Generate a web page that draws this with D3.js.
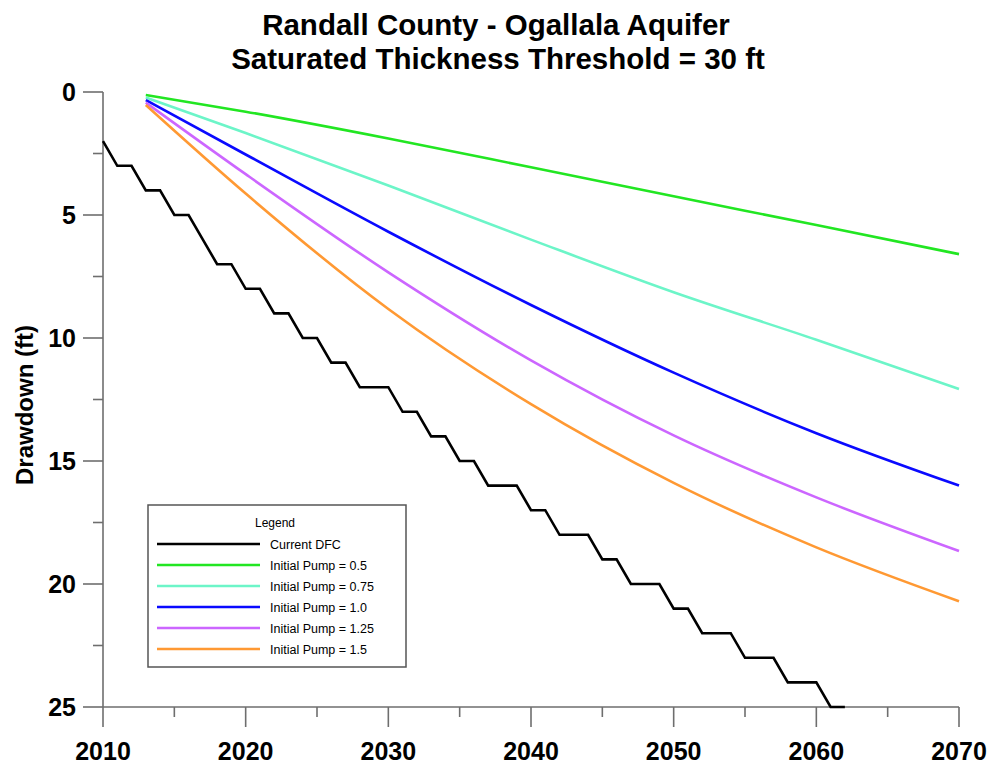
<!DOCTYPE html>
<html>
<head>
<meta charset="utf-8">
<script src="https://cdn.jsdelivr.net/npm/d3@7"></script>
<style>
  html, body { margin: 0; padding: 0; background: #fff; }
  svg { display: block; }
  text { font-family: "Liberation Sans", Arial, sans-serif; }
</style>
</head>
<body>
<svg id="chart" width="992" height="767"></svg>
<script>
// Current desired future condition: annual drawdown (ft)
const dfcYears = d3.range(2010, 2063);
const dfcValues = [2, 3, 3, 4, 4, 5, 5, 6, 7, 7, 8, 8, 9, 9, 10, 10, 11, 11, 12, 12,
  12, 13, 13, 14, 14, 15, 15, 16, 16, 16, 17, 17, 18, 18, 18, 19, 19, 20, 20, 20,
  21, 21, 22, 22, 22, 23, 23, 23, 24, 24, 24, 25, 25];

// Projected drawdown for each initial pumping scenario
const scenarioYears = [2013, 2020, 2030, 2040, 2050, 2060, 2070];
const pump050 = [0.12, 0.80, 1.89, 3.06, 4.24, 5.41, 6.59];
const pump075 = [0.22, 1.67, 3.80, 6.00, 8.14, 10.07, 12.07];
const pump100 = [0.33, 2.54, 5.68, 8.66, 11.41, 13.87, 16.00];
const pump125 = [0.43, 3.34, 7.33, 10.91, 13.96, 16.48, 18.66];
const pump150 = [0.53, 4.13, 8.82, 12.69, 15.89, 18.51, 20.70];

const seriesNames = ["Current DFC", "Initial Pump = 0.5", "Initial Pump = 0.75",
  "Initial Pump = 1.0", "Initial Pump = 1.25", "Initial Pump = 1.5"];
const seriesColors = ["#000000", "#22e622", "#6cf5c8", "#0a0aff", "#cc66ff", "#ff9933"];

const xTicks = [2010, 2020, 2030, 2040, 2050, 2060, 2070];
const yTicks = [0, 5, 10, 15, 20, 25];

const svg = d3.select("#chart");
const x = d3.scaleLinear().domain([2010, 2070]).range([103, 959]);
const y = d3.scaleLinear().domain([0, 25]).range([92, 707]);
const axisColor = "#6e6e6e";

// Titles
svg.append("text").attr("x", 496).attr("y", 35).attr("text-anchor", "middle")
  .attr("font-size", 29.5).attr("font-weight", "bold").text("Randall County - Ogallala Aquifer");
svg.append("text").attr("x", 498).attr("y", 69).attr("text-anchor", "middle")
  .attr("font-size", 29.5).attr("font-weight", "bold").text("Saturated Thickness Threshold = 30 ft");

// Axis title
svg.append("text").attr("transform", "translate(33,405) rotate(-90)")
  .attr("text-anchor", "middle").attr("font-size", 24).attr("font-weight", "bold")
  .text("Drawdown (ft)");

// Axes
const axes = svg.append("g").attr("stroke", axisColor).attr("stroke-width", 1.6).attr("fill", "none");
axes.append("line").attr("x1", x(2010)).attr("x2", x(2010)).attr("y1", y(0)).attr("y2", y(25));
axes.append("line").attr("x1", x(2010)).attr("x2", x(2070)).attr("y1", y(25)).attr("y2", y(25));

const yMinor = d3.range(2.5, 25, 5);
yTicks.forEach(v => axes.append("line").attr("x1", x(2010) - 20).attr("x2", x(2010)).attr("y1", y(v)).attr("y2", y(v)));
yMinor.forEach(v => axes.append("line").attr("x1", x(2010) - 10).attr("x2", x(2010)).attr("y1", y(v)).attr("y2", y(v)));
const xMinor = d3.range(2015, 2070, 10);
xTicks.forEach(v => axes.append("line").attr("x1", x(v)).attr("x2", x(v)).attr("y1", y(25)).attr("y2", y(25) + 20));
xMinor.forEach(v => axes.append("line").attr("x1", x(v)).attr("x2", x(v)).attr("y1", y(25)).attr("y2", y(25) + 10));

svg.append("g").selectAll("text").data(yTicks).join("text")
  .attr("x", 76).attr("y", d => y(d) + 9).attr("text-anchor", "end")
  .attr("font-size", 25).attr("font-weight", "bold").text(d => d);
svg.append("g").selectAll("text").data(xTicks).join("text")
  .attr("x", d => x(d)).attr("y", 760).attr("text-anchor", "middle")
  .attr("font-size", 25).attr("font-weight", "bold").text(d => d);

// Data lines
const linear = d3.line().x(d => x(d[0])).y(d => y(d[1]));
const smooth = d3.line().x(d => x(d[0])).y(d => y(d[1])).curve(d3.curveMonotoneX);

const scenarios = [pump050, pump075, pump100, pump125, pump150];
scenarios.forEach((vals, i) => {
  svg.append("path").datum(scenarioYears.map((yr, j) => [yr, vals[j]]))
    .attr("d", smooth).attr("fill", "none")
    .attr("stroke", seriesColors[i + 1]).attr("stroke-width", 2.6);
});
svg.append("path").datum(dfcYears.map((yr, j) => [yr, dfcValues[j]]))
  .attr("d", linear).attr("fill", "none").attr("stroke", seriesColors[0])
  .attr("stroke-width", 2.6).attr("stroke-linejoin", "miter");

// Legend
const lg = svg.append("g").attr("transform", "translate(148,505)");
lg.append("rect").attr("width", 258).attr("height", 162)
  .attr("fill", "#fff").attr("stroke", "#555").attr("stroke-width", 1.5);
lg.append("text").attr("x", 127).attr("y", 22).attr("text-anchor", "middle")
  .attr("font-size", 12).text("Legend");
seriesNames.forEach((name, i) => {
  const yy = 39 + i * 21;
  lg.append("line").attr("x1", 9).attr("x2", 112).attr("y1", yy).attr("y2", yy)
    .attr("stroke", seriesColors[i]).attr("stroke-width", 2.6);
  lg.append("text").attr("x", 122).attr("y", yy + 4.5).attr("font-size", 12.5).text(name);
});
</script>
</body>
</html>
